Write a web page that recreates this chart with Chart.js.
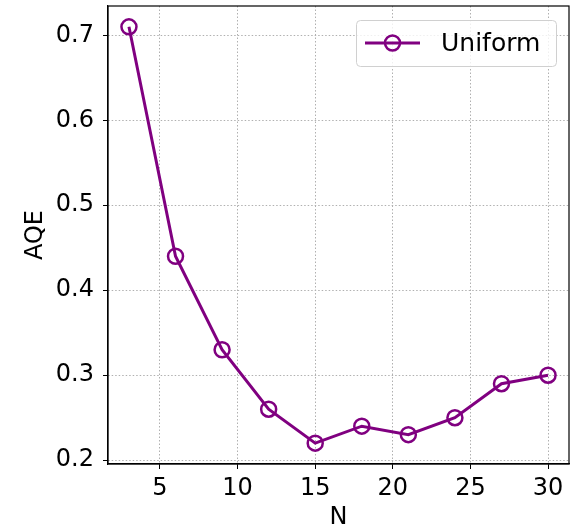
<!DOCTYPE html>
<html>
<head>
<meta charset="utf-8">
<script src="https://cdn.jsdelivr.net/npm/chart.js@4/dist/chart.umd.min.js"></script>
<style>
  html, body { margin: 0; padding: 0; background: #fff; }
  #wrap { width: 575px; height: 532px; }
</style>
</head>
<body>
<div id="wrap"><canvas id="aqeChart"></canvas></div>
<script>
// data
const nValues = [3, 6, 9, 12, 15, 18, 21, 24, 27, 30];
const aqeUniform = [0.71, 0.44, 0.33, 0.26, 0.22, 0.24, 0.23, 0.25, 0.29, 0.30];
const xTicks = [5, 10, 15, 20, 25, 30];
const yTicks = [0.2, 0.3, 0.4, 0.5, 0.6, 0.7];

const purple = '#800080';
const fontFamily = "'DejaVu Sans', sans-serif";

// box around plot + legend in the upper right, like matplotlib
const frameAndLegend = {
    id: 'frameAndLegend',
    afterDraw(chart) {
        const { ctx, chartArea: a } = chart;
        ctx.save();
        ctx.strokeStyle = '#000';
        ctx.lineWidth = 1.2;
        ctx.strokeRect(a.left, a.top, a.right - a.left, a.bottom - a.top);

        // legend
        const ds = chart.data.datasets[0];
        const bx = 356, by = 20, bw = 200, bh = 46;
        ctx.fillStyle = 'rgba(255,255,255,0.8)';
        ctx.strokeStyle = '#d0d0d0';
        ctx.lineWidth = 1;
        ctx.beginPath();
        ctx.roundRect(bx + 0.5, by + 0.5, bw, bh, 4);
        ctx.fill();
        ctx.stroke();

        const cy = by + bh / 2;
        ctx.strokeStyle = purple;
        ctx.lineWidth = 3;
        ctx.beginPath();
        ctx.moveTo(365, cy);
        ctx.lineTo(420, cy);
        ctx.stroke();
        ctx.lineWidth = 2.5;
        ctx.beginPath();
        ctx.arc(392.5, cy, 7.5, 0, Math.PI * 2);
        ctx.stroke();

        ctx.fillStyle = '#000';
        ctx.font = '25px ' + fontFamily;
        ctx.textBaseline = 'middle';
        ctx.textAlign = 'left';
        ctx.fillText(ds.label, 441, cy + 1);
        ctx.restore();
    }
};

new Chart(document.getElementById('aqeChart').getContext('2d'), {
    type: 'line',
    data: {
        labels: nValues,
        datasets: [{
            label: 'Uniform',
            data: nValues.map((n, i) => ({ x: n, y: aqeUniform[i] })),
            borderColor: purple,
            borderWidth: 3,
            backgroundColor: 'rgba(0,0,0,0)',
            pointRadius: 7.5,
            pointHoverRadius: 7.5,
            pointBorderWidth: 2.5,
            pointBorderColor: purple,
            pointBackgroundColor: 'rgba(0,0,0,0)',
            tension: 0,
            fill: false,
            clip: false
        }]
    },
    options: {
        responsive: true,
        maintainAspectRatio: false,
        animation: false,
        layout: { autoPadding: false, padding: { top: 6, right: 6, left: 0, bottom: 0 } },
        plugins: {
            legend: { display: false },
            tooltip: { enabled: false }
        },
        scales: {
            x: {
                type: 'linear',
                min: 1.65,
                max: 31.35,
                afterBuildTicks: axis => { axis.ticks = xTicks.map(v => ({ value: v })); },
                afterFit: axis => {
                    axis.height = 68;
                    axis.paddingLeft = 0;
                    axis.paddingRight = 0;
                },
                ticks: {
                    color: '#000',
                    font: { family: fontFamily, size: 24 },
                    padding: 5,
                    maxRotation: 0
                },
                grid: {
                    color: '#b0b0b0',
                    lineWidth: 1,
                    tickColor: '#000',
                    tickLength: 5
                },
                border: { display: true, color: '#000', width: 1.2, dash: [1.5, 2] },
                title: {
                    display: true,
                    text: 'N',
                    color: '#000',
                    font: { family: fontFamily, size: 24 },
                    padding: { top: 0, bottom: 0 }
                }
            },
            y: {
                type: 'linear',
                min: 0.1955,
                max: 0.7345,
                afterBuildTicks: axis => { axis.ticks = yTicks.map(v => ({ value: v })); },
                afterFit: axis => {
                    axis.width = 108;
                    axis.paddingTop = 0;
                    axis.paddingBottom = 0;
                },
                ticks: {
                    color: '#000',
                    font: { family: fontFamily, size: 24 },
                    padding: 9,
                    callback: v => v.toFixed(1)
                },
                grid: {
                    color: '#b0b0b0',
                    lineWidth: 1,
                    tickColor: '#000',
                    tickLength: 5
                },
                border: { display: true, color: '#000', width: 1.2, dash: [1.5, 2] },
                title: {
                    display: true,
                    text: 'AQE',
                    color: '#000',
                    font: { family: fontFamily, size: 24 },
                    padding: { top: 21, bottom: 0 }
                }
            }
        }
    },
    plugins: [frameAndLegend]
});
</script>
</body>
</html>
